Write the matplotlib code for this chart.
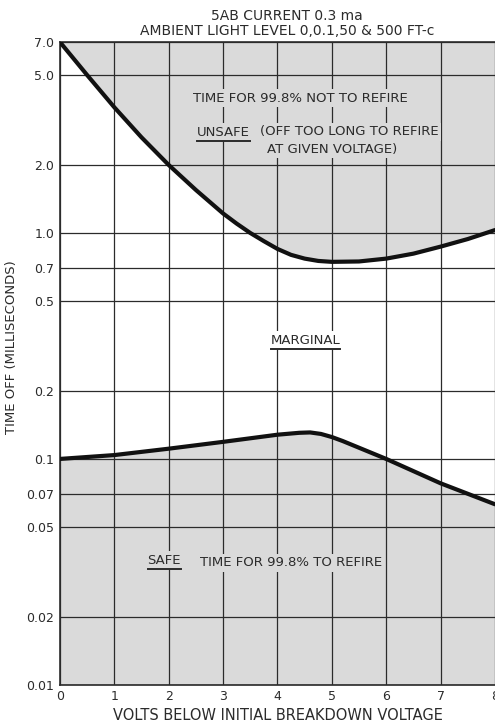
import numpy as np
import matplotlib
matplotlib.use('Agg')
import matplotlib.pyplot as plt
from matplotlib.lines import Line2D

# upper curve: time for 99.8% NOT to refire (ms)
x_unsafe = [0, 0.5, 1, 1.5, 2, 2.5, 3, 3.25, 3.5, 3.75, 4, 4.25, 4.5, 4.75, 5, 5.5, 6, 6.5, 7, 7.5, 8]
y_unsafe = [7.0, 5.0, 3.6, 2.65, 2.0, 1.55, 1.22, 1.1, 1.0, 0.92, 0.85, 0.8, 0.77, 0.752, 0.745,
            0.748, 0.77, 0.81, 0.87, 0.94, 1.03]

# lower curve: time for 99.8% to refire (ms)
x_safe = [0, 1, 2, 3, 4, 4.4, 4.6, 4.8, 5.0, 5.2, 6, 7, 8]
y_safe = [0.1, 0.104, 0.111, 0.119, 0.128, 0.1305, 0.131, 0.129, 0.125, 0.12, 0.1, 0.078, 0.063]

yticks = [7.0, 5.0, 2.0, 1.0, 0.7, 0.5, 0.2, 0.1, 0.07, 0.05, 0.02, 0.01]
ylabels = ['7.0', '5.0', '2.0', '1.0', '0.7', '0.5', '0.2', '0.1', '0.07', '0.05', '0.02', '0.01']
xticks = [0, 1, 2, 3, 4, 5, 6, 7, 8]

shade = '#dadada'
ink = '#2b2b2b'

plt.rcParams['font.family'] = ['DejaVu Sans']

fig = plt.figure(figsize=(4.95, 7.24), dpi=100)
ax = fig.add_axes([0.121, 0.054, 0.879, 0.888])
ax.set_yscale('log')
ax.set_xlim(0, 8)
ax.set_ylim(0.01, 7.0)

ax.fill_between(x_unsafe, y_unsafe, 7.0, color=shade, lw=0, zorder=1)
ax.fill_between(x_safe, 0.01, y_safe, color=shade, lw=0, zorder=1)
ax.plot(x_unsafe, y_unsafe, color='#111111', lw=3, solid_capstyle='round',
        solid_joinstyle='round', zorder=3)
ax.plot(x_safe, y_safe, color='#111111', lw=3, solid_capstyle='round',
        solid_joinstyle='round', zorder=3)

ax.set_yticks(yticks)
ax.set_yticklabels(ylabels)
ax.yaxis.set_minor_locator(matplotlib.ticker.NullLocator())
ax.set_xticks(xticks)
ax.set_xticklabels([str(v) for v in xticks])
ax.tick_params(length=0, labelsize=9, colors=ink, pad=4)
ax.grid(True, color=ink, lw=0.9)
for s in ax.spines.values():
    s.set_color(ink)
    s.set_linewidth(1.2)
ax.spines['right'].set_visible(False)

ax.set_xlabel('VOLTS BELOW INITIAL BREAKDOWN VOLTAGE', fontsize=10.5, color=ink, labelpad=3)
ax.set_ylabel('TIME OFF (MILLISECONDS)', fontsize=9.5, color=ink)
ax.yaxis.set_label_coords(-0.097, 0.526)

fig.text(0.58, 0.978, '5AB CURRENT 0.3 ma', ha='center', va='center', fontsize=10, color=ink)
fig.text(0.58, 0.957, 'AMBIENT LIGHT LEVEL 0,0.1,50 & 500 FT-c', ha='center', va='center',
         fontsize=10, color=ink)

tkw = dict(fontsize=9.5, color=ink, zorder=4, va='center')
underlined = []

def label(x, y, s, bg, ha='left', underline=False):
    t = ax.text(x, y, s, ha=ha, transform=fig.transFigure,
                bbox=dict(facecolor=bg, edgecolor='none', pad=1.5), **tkw)
    if underline:
        underlined.append(t)
    return t

label(0.606, 1 - 98 / 724, 'TIME FOR 99.8% NOT TO REFIRE', shade, ha='center')
label(0.398, 1 - 132 / 724, 'UNSAFE', shade, underline=True)
label(0.525, 1 - 132 / 724, '(OFF TOO LONG TO REFIRE', shade)
label(0.540, 1 - 149 / 724, 'AT GIVEN VOLTAGE)', shade)
label(0.617, 1 - 340 / 724, 'MARGINAL', 'white', ha='center', underline=True)
label(0.298, 1 - 560 / 724, 'SAFE', shade, underline=True)
label(0.404, 1 - 563 / 724, 'TIME FOR 99.8% TO REFIRE', shade)

fig.canvas.draw()
r = fig.canvas.get_renderer()
for t in underlined:
    bb = t.get_window_extent(r)
    yy = bb.y0 - 2
    fig.add_artist(Line2D([bb.x0, bb.x1], [yy, yy], transform=None, color=ink, lw=1.4, zorder=5))

fig.savefig('out.png', dpi=100, facecolor='white')
